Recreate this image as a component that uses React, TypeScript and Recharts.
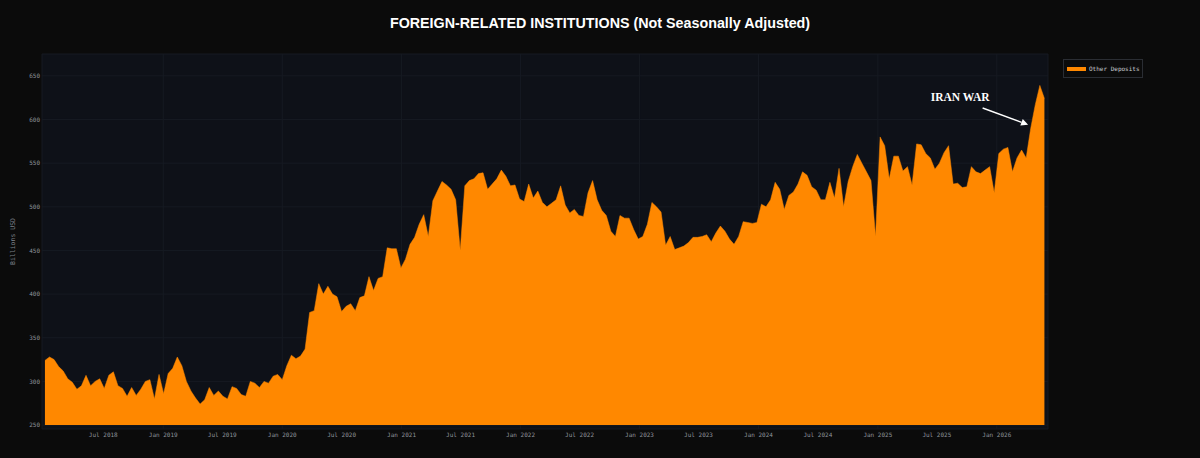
import React from "react";
import { Area, AreaChart, CartesianGrid, ReferenceDot, XAxis, YAxis } from "recharts";

// H.8 "Other Deposits", foreign-related institutions, NSA, billions USD (biweekly reads)
const START = Date.UTC(2018, 0, 3);
const STEP_DAYS = 14;

const block2018 = [324, 328, 325, 317, 312, 303, 299, 291, 295, 307, 295, 300, 303, 292, 307, 311, 295, 292, 283, 293, 284, 291, 300, 302, 280, 308];
const block2019 = [286, 309, 315, 328, 318, 300, 289, 281, 274, 279, 293, 284, 289, 283, 280, 294, 292, 285, 283, 300, 298, 293, 300, 298, 306, 308];
const block2020 = [302, 318, 330, 326, 329, 337, 379, 381, 412, 400, 409, 400, 397, 380, 386, 389, 381, 396, 398, 420, 404, 418, 420, 453, 452, 452];
const block2021 = [430, 440, 457, 465, 480, 491, 466, 507, 518, 529, 525, 520, 508, 450, 524, 530, 532, 538, 539, 520, 526, 532, 542, 535, 524, 525];
const block2022 = [509, 506, 526, 510, 518, 505, 500, 504, 508, 524, 502, 493, 497, 490, 489, 516, 530, 508, 496, 490, 472, 466, 490, 487, 487, 474];
const block2023 = [463, 466, 480, 505, 500, 494, 456, 466, 451, 453, 455, 459, 465, 465, 466, 468, 460, 470, 478, 472, 463, 457, 466, 483, 482, 481];
const block2024 = [482, 503, 500, 508, 528, 520, 497, 513, 517, 526, 540, 536, 523, 519, 508, 508, 528, 510, 544, 500, 529, 546, 560, 550, 540, 530];
const block2025 = [466, 580, 570, 532, 558, 558, 541, 546, 525, 572, 571, 561, 556, 543, 550, 562, 570, 526, 527, 522, 523, 546, 540, 538, 542, 546];
const block2026 = [516, 561, 566, 568, 540, 556, 565, 556, 590, 617, 639, 624];

const deposits = [
  ...block2018, ...block2019, ...block2020, ...block2021, ...block2022,
  ...block2023, ...block2024, ...block2025, ...block2026,
];

const xTickDates = [
  "2018-07-01", "2019-01-01", "2019-07-01", "2020-01-01", "2020-07-01", "2021-01-01",
  "2021-07-01", "2022-01-01", "2022-07-01", "2023-01-01", "2023-07-01", "2024-01-01",
  "2024-07-01", "2025-01-01", "2025-07-01", "2026-01-01",
];
const yTicks = [250, 300, 350, 400, 450, 500, 550, 600, 650];
const MONTHS = ["Jan", "Feb", "Mar", "Apr", "May", "Jun", "Jul", "Aug", "Sep", "Oct", "Nov", "Dec"];

const ANNOTATION = { date: "2026-04-07", value: 594, text: "IRAN WAR" };

const DAY = 86400000;
const data = deposits.map((v, i) => ({ t: START + i * STEP_DAYS * DAY, v }));
const xTicks = xTickDates.map((d) => Date.parse(d));

const MONO = "'DejaVu Sans Mono', 'Liberation Mono', monospace";
const ORANGE = "#ff8800";

function fmtTick(t: number) {
  const d = new Date(t);
  return `${MONTHS[d.getUTCMonth()]} ${d.getUTCFullYear()}`;
}

function ArrowNote(props: any) {
  const { cx, cy } = props;
  if (cx == null || cy == null) return null;
  const sx = cx - 45.5;
  const sy = cy - 16.7;
  const len = Math.hypot(cx - sx, cy - sy);
  const ux = (cx - sx) / len;
  const uy = (cy - sy) / len;
  const bx = cx - 7 * ux;
  const by = cy - 7 * uy;
  const px = -uy * 3.5;
  const py = ux * 3.5;
  return (
    <g>
      <line x1={sx} y1={sy} x2={bx} y2={by} stroke="#ffffff" strokeWidth={1.4} />
      <polygon points={`${cx},${cy} ${bx + px},${by + py} ${bx - px},${by - py}`} fill="#ffffff" />
      <text
        x={cx - 68}
        y={cy - 23.3}
        textAnchor="middle"
        fill="#ffffff"
        style={{ fontFamily: "'Liberation Serif', 'DejaVu Serif', serif", fontWeight: 700, fontSize: 11.5 }}
      >
        {ANNOTATION.text}
      </text>
    </g>
  );
}

export default function App() {
  return (
    <div style={{ position: "relative", width: 1200, height: 458, background: "#0b0b0b", overflow: "hidden" }}>
      <style>{`body{margin:0;background:#0b0b0b}`}</style>
      <div
        style={{
          position: "absolute",
          top: 15,
          left: 0,
          width: 1200,
          textAlign: "center",
          color: "#ffffff",
          fontFamily: "'Liberation Sans', Arial, sans-serif",
          fontWeight: 700,
          fontSize: 14.3,
          lineHeight: "16px",
        }}
      >
        FOREIGN-RELATED INSTITUTIONS (Not Seasonally Adjusted)
      </div>

      <AreaChart
        width={1200}
        height={458}
        data={data}
        margin={{ top: 54, right: 152, bottom: 0, left: 0 }}
      >
        <CartesianGrid fill="#0e1118" stroke="#161a22" strokeWidth={1} />
        <XAxis
          dataKey="t"
          type="number"
          domain={[Date.UTC(2017, 11, 25), Date.UTC(2026, 5, 7)]}
          allowDataOverflow
          ticks={xTicks}
          tickFormatter={fmtTick}
          height={29}
          tickLine={false}
          axisLine={false}
          tickSize={0}
          tickMargin={4}
          tick={{ fill: "#8f949c", fontSize: 6, fontFamily: MONO }}
        />
        <YAxis
          type="number"
          domain={[245.5, 675]}
          allowDataOverflow
          ticks={yTicks}
          width={42}
          tickLine={false}
          axisLine={false}
          tickSize={0}
          tickMargin={2}
          tick={{ fill: "#8f949c", fontSize: 6, fontFamily: MONO }}
          label={{
            value: "Billions USD",
            angle: -90,
            position: "insideLeft",
            offset: 13,
            style: { fill: "#7d828a", fontSize: 6.5, fontFamily: MONO, textAnchor: "middle" },
          }}
        />
        <Area
          type="linear"
          dataKey="v"
          baseValue={250}
          stroke={ORANGE}
          strokeWidth={0.5}
          fill={ORANGE}
          fillOpacity={1}
          isAnimationActive={false}
          dot={false}
          activeDot={false}
        />
        <ReferenceDot
          x={Date.parse(ANNOTATION.date)}
          y={ANNOTATION.value}
          r={0}
          shape={(p: any) => <ArrowNote {...p} />}
        />
      </AreaChart>

      <div
        style={{
          position: "absolute",
          left: 1063,
          top: 59,
          width: 80,
          height: 19,
          border: "1px solid #2a2d33",
          boxSizing: "border-box",
          display: "flex",
          alignItems: "center",
          whiteSpace: "nowrap",
          fontFamily: MONO,
          fontSize: 6,
          color: "#c9ccd1",
        }}
      >
        <span style={{ display: "inline-block", flex: "none", width: 19, height: 4, background: ORANGE, marginLeft: 3, marginRight: 3 }} />
        Other Deposits
      </div>
    </div>
  );
}
